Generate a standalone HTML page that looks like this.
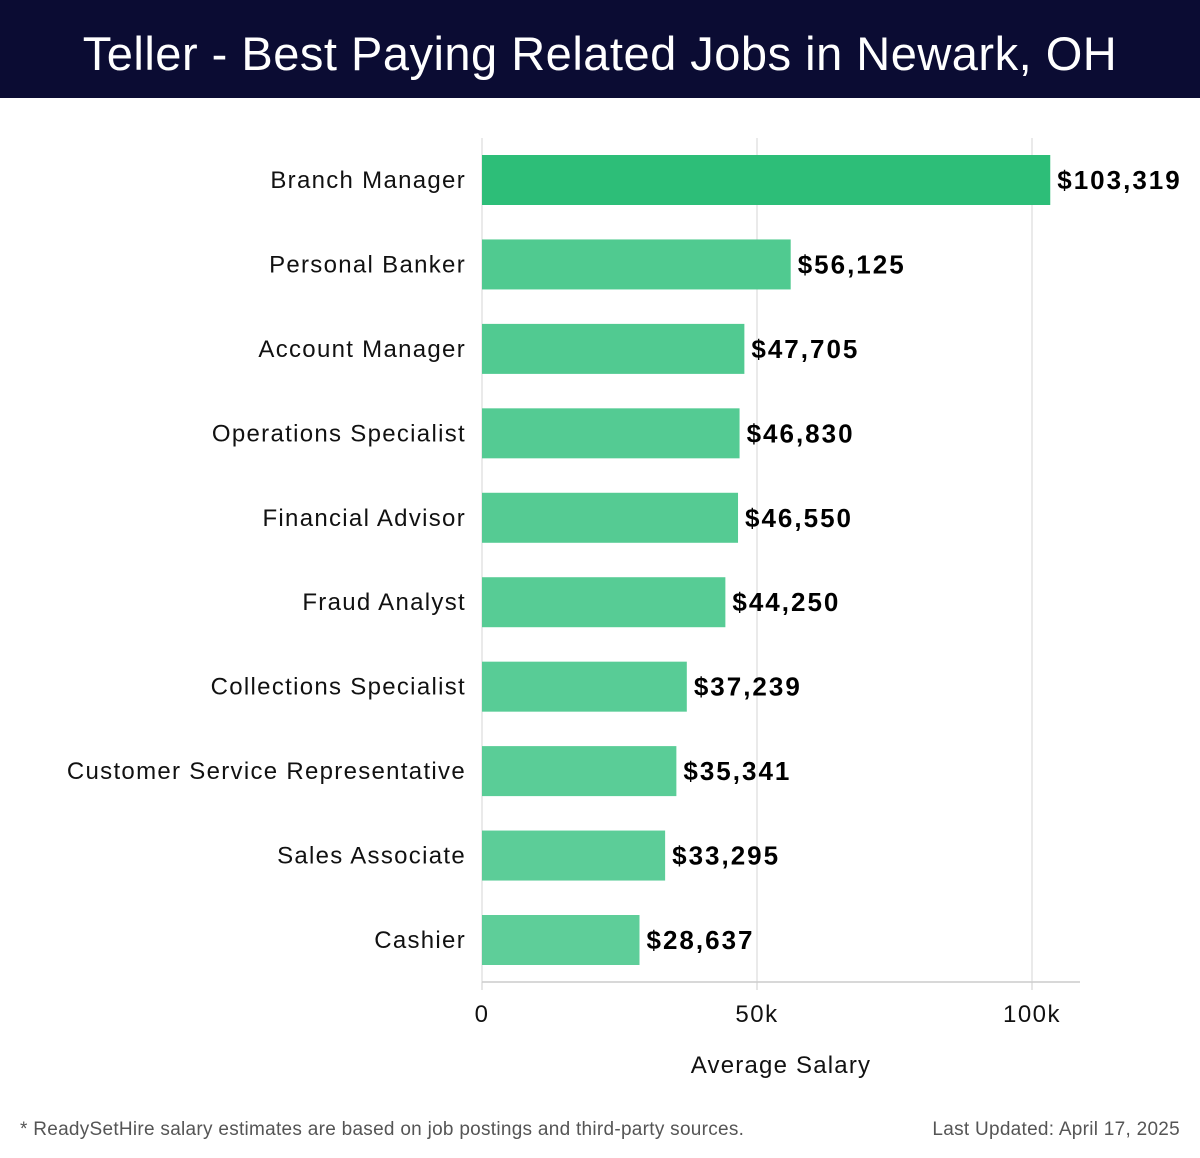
<!DOCTYPE html>
<html><head><meta charset="utf-8"><style>
body{margin:0;width:1200px;height:1158px;background:#fff;font-family:"Liberation Sans",sans-serif;overflow:hidden;position:relative}
#hdr{position:absolute;left:0;top:0;width:1200px;height:98px;background:#0b0c33;color:#fff;font-size:47px;text-align:center;line-height:108px;letter-spacing:0.5px}
.foot{position:absolute;top:1119px;font-size:19px;color:#555;letter-spacing:0.28px}
</style></head><body>
<div id="hdr">Teller - Best Paying Related Jobs in Newark, OH</div>
<svg id="chart" width="1200" height="1158" style="position:absolute;left:0;top:0"></svg>
<div class="foot" style="left:20px">* ReadySetHire salary estimates are based on job postings and third-party sources.</div>
<div class="foot" style="right:20px">Last Updated: April 17, 2025</div>
<script>
const categories=["Branch Manager","Personal Banker","Account Manager","Operations Specialist","Financial Advisor","Fraud Analyst","Collections Specialist","Customer Service Representative","Sales Associate","Cashier"];
const salaries=[103319,56125,47705,46830,46550,44250,37239,35341,33295,28637];
const tickValues=[0,50000,100000];
const tickLabels=["0","50k","100k"];
const NS="http://www.w3.org/2000/svg";
const svg=document.getElementById('chart');
const x0=482,pxPerUnit=275/50000;
const xs=v=>x0+v*pxPerUnit;
const yTop=180,yBot=940;
const ys=i=>yTop+i*(yBot-yTop)/(categories.length-1);
function mk(t,a){const e=document.createElementNS(NS,t);for(const k in a)e.setAttribute(k,a[k]);svg.appendChild(e);return e;}
tickValues.forEach((v,i)=>{
 const g=mk('line',{x1:xs(v),x2:xs(v),y1:138,y2:982,stroke:'#e4e4e4','stroke-width':1.5});
 
 
 const tk=mk('line',{x1:xs(v),x2:xs(v),y1:982,y2:990,stroke:'#ccc'});
 
 
 const t=mk('text',{x:xs(v),y:1022,'text-anchor':'middle','font-size':24,fill:'#111','letter-spacing':1.5});
 t.textContent=tickLabels[i];
 
 
});
const ax=mk('line',{x1:482,x2:1080,y1:982,y2:982,stroke:'#ccc','stroke-width':1.5});


categories.forEach((c,i)=>{
 const y=ys(i);
 const r=mk('rect',{x:x0,y:y-25,width:xs(salaries[i])-x0,height:50,fill:i==0?'#2dbe78':'#4ec98f','fill-opacity':i==0?1:(1-i*0.01)});
 
 
 const l=mk('text',{x:466,y:y+8,'text-anchor':'end','font-size':24,fill:'#111','letter-spacing':1.3});
 l.textContent=c;
 
 
 const v=mk('text',{x:xs(salaries[i])+7,y:y+9,'font-size':26,'font-weight':'bold',fill:'#000','letter-spacing':2});
 v.textContent='$'+salaries[i].toLocaleString('en-US');
 
 
});
const at=mk('text',{x:781,y:1073,'text-anchor':'middle','font-size':24,fill:'#111','letter-spacing':1.2});
at.textContent='Average Salary';


</script>
</body></html>
